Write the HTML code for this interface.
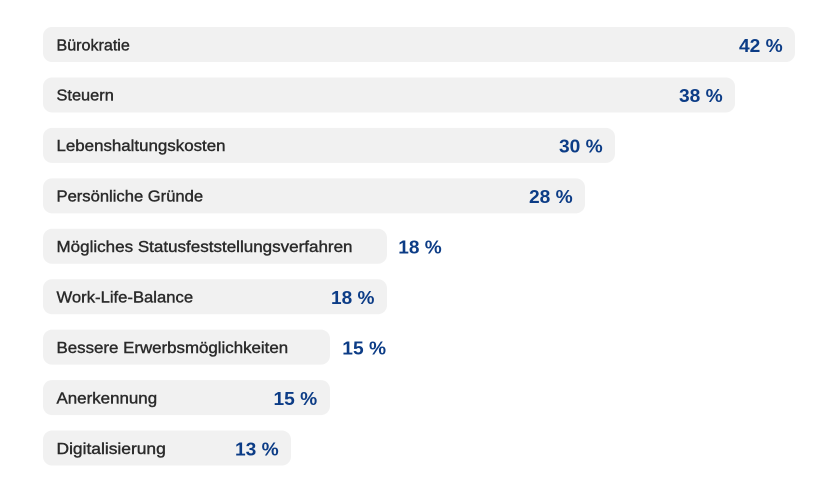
<!DOCTYPE html>
<html>
<head>
<meta charset="utf-8">
<style>
  html,body{margin:0;padding:0;background:#fff;}
  svg{display:block;}
  .lbl{font-family:"Liberation Sans",sans-serif;font-weight:normal;font-size:16px;fill:#2a2a2a;stroke:#2a2a2a;stroke-width:0.4px;}
  .val{font-family:"Liberation Sans",sans-serif;font-weight:bold;font-size:18px;fill:#0c3c86;}
  .bar{fill:#f1f1f1;}
</style>
</head>
<body>
<svg width="820" height="490" viewBox="0 0 820 490" xmlns="http://www.w3.org/2000/svg">
  <!-- Row 0 -->
  <rect class="bar" x="43" y="27" width="752" height="35" rx="9"/>
  <text class="lbl" x="56.5" y="50.3" textLength="73.3" lengthAdjust="spacingAndGlyphs">Bürokratie</text>
  <text class="val" x="739" y="51.8" textLength="43.7" lengthAdjust="spacingAndGlyphs">42 %</text>

  <!-- Row 1 -->
  <rect class="bar" x="43" y="77.44" width="692" height="35" rx="9"/>
  <text class="lbl" x="56.5" y="100.74" textLength="57.3" lengthAdjust="spacingAndGlyphs">Steuern</text>
  <text class="val" x="679" y="102.24" textLength="43.7" lengthAdjust="spacingAndGlyphs">38 %</text>

  <!-- Row 2 -->
  <rect class="bar" x="43" y="127.88" width="572" height="35" rx="9"/>
  <text class="lbl" x="56.5" y="151.18" textLength="169" lengthAdjust="spacingAndGlyphs">Lebenshaltungskosten</text>
  <text class="val" x="559" y="152.68" textLength="43.7" lengthAdjust="spacingAndGlyphs">30 %</text>

  <!-- Row 3 -->
  <rect class="bar" x="43" y="178.32" width="542" height="35" rx="9"/>
  <text class="lbl" x="56.5" y="201.62" textLength="146.6" lengthAdjust="spacingAndGlyphs">Persönliche Gründe</text>
  <text class="val" x="529" y="203.12" textLength="43.7" lengthAdjust="spacingAndGlyphs">28 %</text>

  <!-- Row 4 -->
  <rect class="bar" x="43" y="228.76" width="344" height="35" rx="9"/>
  <text class="lbl" x="56.5" y="252.06" textLength="296" lengthAdjust="spacingAndGlyphs">Mögliches Statusfeststellungsverfahren</text>
  <text class="val" x="398.3" y="253.56" textLength="43.4" lengthAdjust="spacingAndGlyphs">18 %</text>

  <!-- Row 5 -->
  <rect class="bar" x="43" y="279.2" width="344" height="35" rx="9"/>
  <text class="lbl" x="56.5" y="302.5" textLength="136.6" lengthAdjust="spacingAndGlyphs">Work-Life-Balance</text>
  <text class="val" x="331" y="304" textLength="43.4" lengthAdjust="spacingAndGlyphs">18 %</text>

  <!-- Row 6 -->
  <rect class="bar" x="43" y="329.64" width="287" height="35" rx="9"/>
  <text class="lbl" x="56.5" y="352.94" textLength="231.6" lengthAdjust="spacingAndGlyphs">Bessere Erwerbsmöglichkeiten</text>
  <text class="val" x="342.3" y="354.44" textLength="43.7" lengthAdjust="spacingAndGlyphs">15 %</text>

  <!-- Row 7 -->
  <rect class="bar" x="43" y="380.08" width="287" height="35" rx="9"/>
  <text class="lbl" x="56.5" y="403.38" textLength="100.6" lengthAdjust="spacingAndGlyphs">Anerkennung</text>
  <text class="val" x="273.5" y="404.88" textLength="43.7" lengthAdjust="spacingAndGlyphs">15 %</text>

  <!-- Row 8 -->
  <rect class="bar" x="43" y="430.52" width="248" height="35" rx="9"/>
  <text class="lbl" x="56.5" y="453.82" textLength="109.3" lengthAdjust="spacingAndGlyphs">Digitalisierung</text>
  <text class="val" x="235" y="455.32" textLength="43.7" lengthAdjust="spacingAndGlyphs">13 %</text>
</svg>
</body>
</html>
